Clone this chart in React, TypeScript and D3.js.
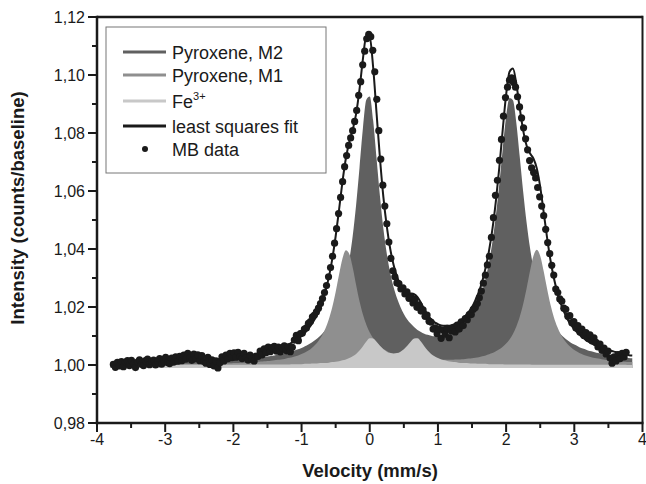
import React from 'react';
import * as d3 from 'd3';

// ---- data (intensity above baseline, in units of 1e-4) ----
const BASELINE = 1.0;
const UNIT = 1e-4;

// Mössbauer velocity channels
const V_MIN = -3.76;
const V_MAX = 3.76;
const N_CH = 256;

// MB data: (intensity - 1) x 1e4, one per channel
const MB_DATA = [
  2, -8, 9, -3, 12, -6, 10, 15, -2, 16, 4, -9, 10, 18, 3, -2, 15, 20, 1, 12,
  17, 0, 14, 22, 3, 19, 26, 8, 5, 24, 10, 28, 13, 30, 15, 34, 20, 40, 24, 16,
  38, 22, 35, 15, 32, 12, 6, 26, 2, 18, -3, 14, -10, 8, 28, 14, 34, 22, 40, 25,
  42, 27, 44, 29, 22, 40, 25, 17, 34, 20, 14, 31, 30, 48, 35, 56, 43, 62, 46, 60,
  64, 48, 62, 45, 60, 66, 49, 63, 46, 61, 86, 102, 84, 108, 110, 124, 128, 144, 150, 166,
  172, 183, 196, 212, 229, 250, 274, 304, 336, 375, 420, 470, 522, 578, 632, 684, 722, 757, 783, 808,
  840, 878, 930, 977, 1035, 1082, 1125, 1140, 1132, 1085, 1011, 916, 808, 710, 620, 548, 487, 424, 368, 325,
  304, 283, 281, 262, 266, 245, 252, 230, 234, 214, 226, 199, 207, 186, 190, 168, 172, 151, 148, 124,
  128, 108, 124, 92, 120, 106, 126, 94, 118, 128, 114, 138, 124, 149, 136, 160, 156, 174, 174, 192,
  198, 212, 232, 255, 282, 310, 345, 375, 440, 508, 585, 637, 706, 778, 858, 922, 958, 982, 990, 974,
  958, 925, 890, 852, 818, 780, 742, 705, 680, 664, 645, 612, 580, 548, 515, 468, 422, 384, 344, 310,
  262, 250, 228, 220, 196, 192, 168, 170, 146, 150, 128, 136, 114, 124, 102, 112, 92, 104, 84, 94,
  78, 62, 72, 50, 58, 38, 48, 24, 6, 28, 14, 36, 22, 40, 28, 44,
];

// fitted sub-spectra on a velocity grid from -3.80 mm/s in 0.05 mm/s steps
const COMP_X0 = -3.8;
const COMP_DX = 0.05;
const PYROXENE_M2 = [
  6, 6, 6, 6, 6, 6, 7, 7, 7, 7, 7, 8, 8, 8, 8, 9, 9, 9, 9, 10,
  10, 10, 10, 11, 11, 12, 12, 12, 13, 13, 14, 14, 15, 16, 16, 17, 18, 19, 19, 20,
  21, 22, 24, 25, 26, 28, 29, 31, 33, 35, 38, 40, 43, 47, 50, 54, 59, 65, 71, 78,
  86, 96, 107, 121, 137, 156, 181, 211, 249, 298, 362, 445, 552, 681, 817, 915, 926, 843, 712, 581,
  470, 384, 318, 268, 230, 200, 176, 157, 143, 131, 121, 114, 108, 104, 101, 99, 99, 99, 101, 104,
  108, 113, 120, 129, 141, 155, 172, 194, 221, 255, 299, 355, 426, 516, 624, 745, 856, 921, 913, 834,
  717, 597, 491, 404, 335, 280, 237, 203, 175, 152, 134, 119, 106, 95, 85, 77, 71, 65, 59, 55,
  50, 47, 44, 41, 38, 36, 33, 32, 30, 28, 27, 25, 24, 23,
];
const PYROXENE_M1 = [
  2, 2, 2, 2, 2, 2, 2, 2, 2, 2, 3, 3, 3, 3, 3, 3, 3, 3, 3, 3,
  3, 4, 4, 4, 4, 4, 4, 4, 5, 5, 5, 5, 5, 6, 6, 6, 7, 7, 8, 8,
  9, 10, 10, 11, 12, 13, 14, 15, 16, 18, 19, 21, 24, 26, 29, 33, 38, 43, 50, 59,
  70, 84, 102, 126, 158, 199, 252, 312, 367, 396, 383, 336, 276, 220, 174, 139, 112, 92, 76, 65,
  55, 48, 42, 37, 34, 30, 28, 26, 24, 22, 21, 20, 19, 19, 18, 18, 18, 18, 18, 18,
  18, 19, 19, 20, 21, 22, 23, 25, 27, 30, 33, 37, 41, 47, 54, 63, 74, 88, 107, 133,
  166, 210, 264, 324, 376, 397, 376, 324, 264, 209, 165, 132, 106, 87, 72, 61, 52, 45, 39, 34,
  30, 27, 24, 22, 20, 18, 16, 15, 14, 13, 12, 11, 10, 10,
];
const FE3 = [
  0, 0, 0, 0, 0, 0, 0, 0, 0, 0, 0, 0, 0, 0, 0, 0, 1, 1, 1, 1,
  1, 1, 1, 1, 1, 1, 1, 1, 1, 1, 1, 1, 1, 1, 1, 1, 1, 1, 1, 1,
  1, 1, 1, 2, 2, 2, 2, 2, 2, 2, 2, 2, 2, 3, 3, 3, 3, 4, 4, 5,
  5, 6, 7, 7, 8, 10, 11, 13, 16, 19, 24, 30, 38, 50, 65, 81, 92, 91, 80, 66,
  54, 46, 41, 40, 41, 46, 54, 66, 80, 91, 92, 81, 65, 50, 38, 30, 24, 19, 16, 13,
  11, 10, 8, 7, 7, 6, 5, 5, 4, 4, 4, 3, 3, 3, 3, 3, 2, 2, 2, 2,
  2, 2, 2, 2, 1, 1, 1, 1, 1, 1, 1, 1, 1, 1, 1, 1, 1, 1, 1, 1,
  1, 1, 1, 1, 1, 1, 1, 1, 1, 1, 1, 1, 0, 0,
];

const X_TICKS = [-4, -3, -2, -1, 0, 1, 2, 3, 4];
const Y_TICKS = [0.98, 1.0, 1.02, 1.04, 1.06, 1.08, 1.1, 1.12];
const LEGEND = ['Pyroxene, M2', 'Pyroxene, M1', 'Fe', 'least squares fit', 'MB data'];

const COL_M2 = '#606060';
const COL_M1 = '#8f8f8f';
const COL_FE = '#c8c8c8';
const INK = '#1a1a1a';
const FONT = 'Liberation Sans, Arial, Helvetica, sans-serif';

export default function App() {
  const W = 646, H = 484;
  const L = 97, R = 642.5, T = 17, B = 423;
  const x = d3.scaleLinear().domain([-4, 4]).range([L, R]);
  const y = d3.scaleLinear().domain([0.98, 1.12]).range([B, T]);

  const compX = PYROXENE_M2.map((_, k) => COMP_X0 + COMP_DX * k);
  const toI = (v: number) => BASELINE + v * UNIT;
  const fillBase = 0.999;

  const area = (vals: number[]) =>
    d3.area<number>()
      .x((_, k) => x(compX[k]))
      .y0(y(fillBase))
      .y1(v => y(toI(v)))
      .curve(d3.curveMonotoneX)(vals) || '';

  const fitVals = PYROXENE_M2.map((v, k) => v + PYROXENE_M1[k] + FE3[k]);
  const fitPath = d3.line<number>()
    .x((_, k) => x(compX[k]))
    .y(v => y(toI(v)))
    .curve(d3.curveMonotoneX)(fitVals) || '';

  const chV = MB_DATA.map((_, i) => V_MIN + (i * (V_MAX - V_MIN)) / (N_CH - 1));

  const fmtY = (v: number) => d3.format('.2f')(v).replace('.', ',');
  const xMinor = d3.range(-3.5, 4, 1);
  const yMinor = d3.range(0.99, 1.12, 0.02);

  const legX = 106, legY = 27, legW = 220, legH = 146;
  const rowsY = [52, 75, 101, 126, 149];
  const legColors = [COL_M2, COL_M1, COL_FE, INK];

  return (
    <svg width={W} height={H} style={{ position: 'absolute', left: 0, top: 0 }} fontFamily={FONT}>
      <rect width={W} height={H} fill="#fff" />
      <path d={area(PYROXENE_M2)} fill={COL_M2} />
      <path d={area(PYROXENE_M1)} fill={COL_M1} />
      <path d={area(FE3)} fill={COL_FE} />
      <path d={fitPath} fill="none" stroke={INK} strokeWidth={2} />
      {MB_DATA.map((v, i) => (
        <circle key={i} cx={x(chV[i])} cy={y(toI(v))} r={3.6} fill={INK} />
      ))}

      {/* frame */}
      <line x1={L} x2={R} y1={T} y2={T} stroke={INK} strokeWidth={2.5} />
      <line x1={R} x2={R} y1={T - 1.2} y2={B} stroke={INK} strokeWidth={2} />
      <line x1={L} x2={L} y1={T - 1.2} y2={B + 1.2} stroke={INK} strokeWidth={2.5} />
      <line x1={L - 1.2} x2={R + 1} y1={B} y2={B} stroke={INK} strokeWidth={2.5} />

      {/* x ticks */}
      {X_TICKS.map(t => (
        <g key={'xt' + t}>
          <line x1={x(t)} x2={x(t)} y1={B} y2={B + 9} stroke={INK} strokeWidth={2} />
          <text x={x(t)} y={445} fontSize={16} textAnchor="middle" fill={INK}>{String(t)}</text>
        </g>
      ))}
      {xMinor.map(t => (
        <line key={'xm' + t} x1={x(t)} x2={x(t)} y1={B} y2={B + 5} stroke={INK} strokeWidth={2} />
      ))}
      {/* y ticks */}
      {Y_TICKS.map(t => (
        <g key={'yt' + t}>
          <line x1={L - 9} x2={L} y1={y(t)} y2={y(t)} stroke={INK} strokeWidth={2} />
          <text x={85} y={y(t) + 5.6} fontSize={16} textAnchor="end" fill={INK}>{fmtY(t)}</text>
        </g>
      ))}
      {yMinor.map(t => (
        <line key={'ym' + t} x1={L - 5} x2={L} y1={y(t)} y2={y(t)} stroke={INK} strokeWidth={2} />
      ))}

      {/* axis titles */}
      <text x={370} y={477} fontSize={18.5} fontWeight="bold" textAnchor="middle" fill={INK}>Velocity (mm/s)</text>
      <text transform="translate(23.5,208) rotate(-90)" fontSize={18.5} fontWeight="bold" textAnchor="middle" fill={INK}>
        Intensity (counts/baseline)
      </text>

      {/* legend */}
      <rect x={legX} y={legY} width={legW} height={legH} fill="#fff" stroke="#777" strokeWidth={1} />
      {LEGEND.map((name, i) => (
        <g key={name}>
          {i < 4 ? (
            <line x1={123} x2={166} y1={rowsY[i]} y2={rowsY[i]} stroke={legColors[i]} strokeWidth={3} />
          ) : (
            <circle cx={145} cy={rowsY[i]} r={3} fill={INK} />
          )}
          <text x={172} y={rowsY[i] + 7} fontSize={18} fill={INK}>
            {name}
            {i === 2 ? <tspan dy={-8} fontSize={11}>3+</tspan> : null}
          </text>
        </g>
      ))}
    </svg>
  );
}
